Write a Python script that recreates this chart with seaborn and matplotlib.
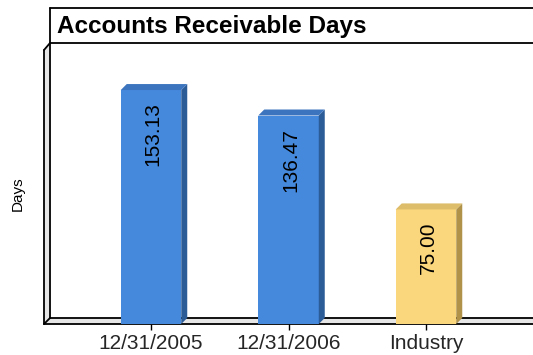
import matplotlib
matplotlib.use("Agg")
import matplotlib.pyplot as plt
from matplotlib.patches import Polygon
from matplotlib.lines import Line2D
import seaborn as sns

categories = ["12/31/2005", "12/31/2006", "Industry"]
values = [153.13, 136.47, 75.00]
value_labels = ["153.13", "136.47", "75.00"]
title = "Accounts Receivable Days"
y_label = "Days"

front_colors = ["#4589DD", "#4589DD", "#FAD67C"]
side_colors = ["#2C5C98", "#2C5C98", "#B09249"]
top_colors = ["#3C74BE", "#3C74BE", "#DDBD6A"]

W, H, DPI = 533, 355, 100

sns.set_theme(style="white")
plt.rcParams["font.family"] = ["Liberation Sans", "DejaVu Sans"]

fig = plt.figure(figsize=(W / DPI, H / DPI), dpi=DPI)
fig.patch.set_facecolor("white")


def fp(x, y):
    """Pixel position (from top-left) to figure fraction."""
    return x / W, 1 - y / H


# plotting area (front plane of the 3D box)
ax_l, ax_r, ax_t, ax_b = 44, 533, 49, 324
ax = fig.add_axes([ax_l / W, 1 - ax_b / H, (ax_r - ax_l) / W, (ax_b - ax_t) / H])
ax.set_facecolor("none")

first_cat_px = 151
px_per_cat = 137.5
x_left = -(first_cat_px - ax_l) / px_per_cat
x_right = (ax_r - first_cat_px) / px_per_cat
ylim_top = 180

sns.barplot(x=categories, y=values, hue=categories, palette=front_colors,
            width=0.44, saturation=1, legend=False, ax=ax, zorder=3,
            linewidth=0)
ax.set_xlim(x_left, x_right)
ax.set_ylim(0, ylim_top)

# 3D depth of the bars
depth_px_x, depth_px_y = 6, 6
dx = depth_px_x * (x_right - x_left) / (ax_r - ax_l)
dy = depth_px_y * ylim_top / (ax_b - ax_t)

for i, bar in enumerate(ax.patches[:len(values)]):
    x0 = bar.get_x()
    x1 = x0 + bar.get_width()
    h = bar.get_height()
    side = Polygon([(x1, 0), (x1 + dx, dy), (x1 + dx, h + dy), (x1, h)],
                   closed=True, facecolor=side_colors[i], edgecolor="none", zorder=3)
    top = Polygon([(x0, h), (x0 + dx, h + dy), (x1 + dx, h + dy), (x1, h)],
                  closed=True, facecolor=top_colors[i], edgecolor="none", zorder=3)
    ax.add_patch(side)
    ax.add_patch(top)
    ax.annotate(value_labels[i], xy=(x0 + bar.get_width() / 2, h),
                xytext=(1.5, -9), textcoords="offset points",
                rotation=90, ha="center", va="top", fontsize=15,
                color="black", zorder=4)

for s in ax.spines.values():
    s.set_visible(False)
ax.set_yticks([])
ax.set_xticks(range(len(categories)))
ax.set_xticklabels(categories, fontsize=15)
ax.tick_params(axis="x", bottom=True, length=4, width=1, color="black",
               direction="out", pad=3)
ax.set_xlabel("")
ax.set_ylabel("")

# walls and floor of the box
wall = Polygon([fp(44, 50), fp(50, 43), fp(50, 318), fp(533, 318),
                fp(533, 324), fp(44, 324)], closed=True,
               facecolor="#e6e6e6", edgecolor="none",
               transform=fig.transFigure, zorder=1)
fig.add_artist(wall)
inner = Polygon([fp(50, 43), fp(533, 43), fp(533, 318), fp(50, 318)], closed=True,
                facecolor="white", edgecolor="none", transform=fig.transFigure, zorder=1)
fig.add_artist(inner)

lw = 1.3
segments = [
    [(44, 50), (44, 324)],
    [(44, 324), (533, 324)],
    [(50, 8), (50, 318)],
    [(50, 318), (533, 318)],
    [(44, 50), (50, 43)],
    [(44, 324), (50, 318)],
    [(50, 43), (533, 43)],
    [(50, 8), (533, 8)],
]
for seg in segments:
    (xa, ya), (xb, yb) = seg
    a, b = fp(xa, ya), fp(xb, yb)
    fig.add_artist(Line2D([a[0], b[0]], [a[1], b[1]], color="black", lw=lw,
                          transform=fig.transFigure, zorder=2))

# keep the bars above the frame lines
ax.set_zorder(3)

tx, ty = fp(57, 26)
fig.text(tx, ty, title, fontsize=17.5, fontweight="bold", ha="left", va="center",
         color="black")
lx, ly = fp(18, 194)
fig.text(lx, ly, y_label, fontsize=11, rotation=90, ha="center", va="center",
         color="black")

fig.savefig("out.png", dpi=DPI, facecolor="white")
